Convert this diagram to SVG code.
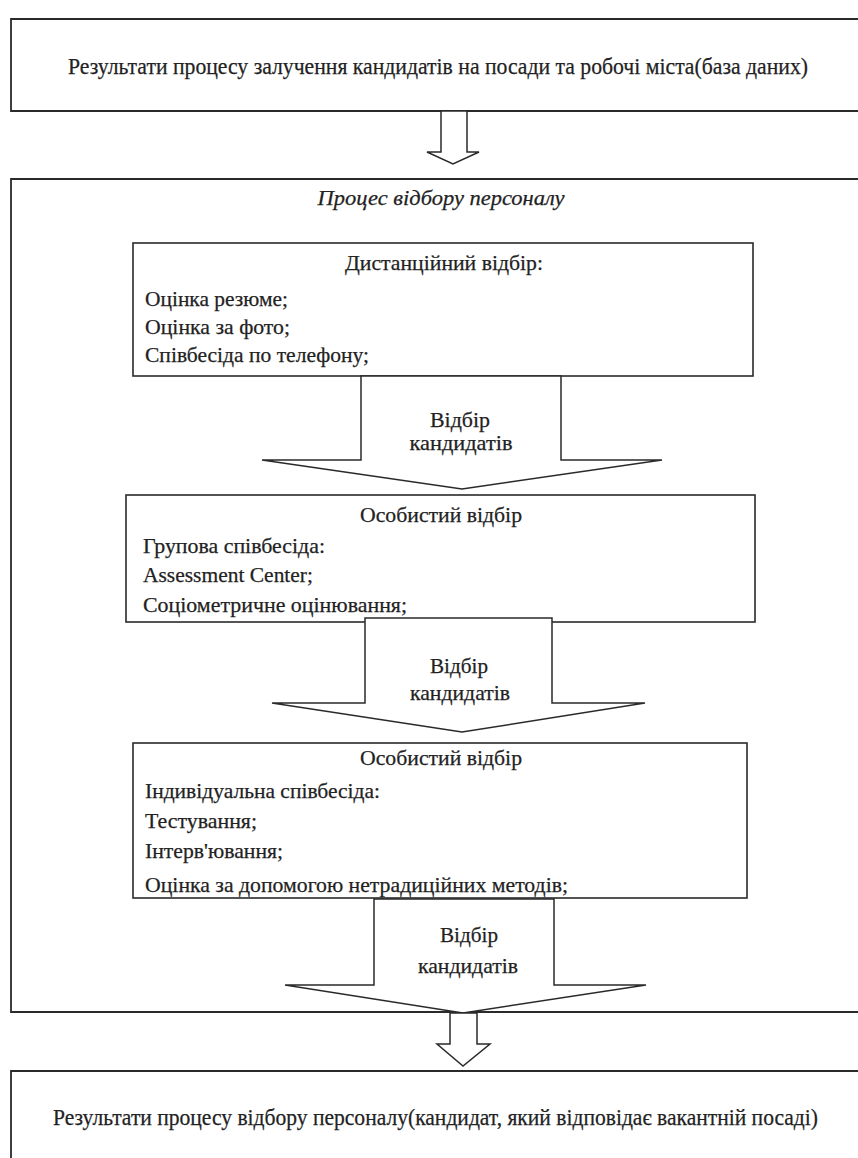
<svg xmlns="http://www.w3.org/2000/svg" width="858" height="1158" viewBox="0 0 858 1158">
  <style>
    .box { fill: #ffffff; stroke: #2a2a2a; stroke-width: 1.6; }
    .frame { fill: none; stroke: #2a2a2a; stroke-width: 1.8; }
    .arrow { fill: #ffffff; stroke: #2a2a2a; stroke-width: 1.5; stroke-linejoin: miter; }
    text { fill: #222222; stroke: #222222; stroke-width: 0.25; }
    .big { font-size: 24px; }
    .txt { font-size: 22px; }
    .mid { text-anchor: middle; }
    .it { font-style: italic; font-size: 22px; }
  </style>

  <rect width="858" height="1158" fill="#ffffff"/>

  <g font-family="Liberation Serif, DejaVu Serif, Noto Serif, Times New Roman, serif">

  <!-- Source: candidate attraction results (box runs off the right edge) -->
  <g id="source">
    <path class="frame" d="M 858,19 H 11 V 111 H 858"/>
    <text class="big" x="68" y="74" textLength="740" lengthAdjust="spacingAndGlyphs">Результати процесу залучення кандидатів на посади та робочі міста(база даних)</text>
  </g>

  <!-- Selection process container -->
  <g id="selection-process">
    <path class="frame" d="M 858,179 H 11 V 1012 H 858"/>
    <text class="it mid" x="441" y="205" textLength="247" lengthAdjust="spacingAndGlyphs">Процес відбору персоналу</text>
  </g>

  <!-- Stage 1: remote screening -->
  <g id="remote-selection">
    <rect class="box" x="133" y="243" width="620" height="133"/>
    <text class="txt mid" x="444" y="270" textLength="198" lengthAdjust="spacingAndGlyphs">Дистанційний відбір:</text>
    <text class="txt" x="145" y="306" textLength="143" lengthAdjust="spacingAndGlyphs">Оцінка резюме;</text>
    <text class="txt" x="145" y="334" textLength="145" lengthAdjust="spacingAndGlyphs">Оцінка за фото;</text>
    <text class="txt" x="145" y="362" textLength="224" lengthAdjust="spacingAndGlyphs">Співбесіда по телефону;</text>
  </g>

  <!-- Stage 2: group assessment -->
  <g id="personal-selection-group">
    <rect class="box" x="126" y="495" width="629" height="127"/>
    <text class="txt mid" x="441" y="522" textLength="162" lengthAdjust="spacingAndGlyphs">Особистий відбір</text>
    <text class="txt" x="143" y="553" textLength="182" lengthAdjust="spacingAndGlyphs">Групова співбесіда:</text>
    <text class="txt" x="143" y="582" textLength="170" lengthAdjust="spacingAndGlyphs">Assessment Center;</text>
    <text class="txt" x="143" y="612" textLength="264" lengthAdjust="spacingAndGlyphs">Соціометричне оцінювання;</text>
  </g>

  <!-- Stage 3: individual assessment -->
  <g id="personal-selection-individual">
    <rect class="box" x="133" y="743" width="614" height="155"/>
    <text class="txt mid" x="441" y="765" textLength="162" lengthAdjust="spacingAndGlyphs">Особистий відбір</text>
    <text class="txt" x="145" y="798" textLength="235" lengthAdjust="spacingAndGlyphs">Індивідуальна співбесіда:</text>
    <text class="txt" x="145" y="828" textLength="112" lengthAdjust="spacingAndGlyphs">Тестування;</text>
    <text class="txt" x="145" y="858" textLength="138" lengthAdjust="spacingAndGlyphs">Інтерв'ювання;</text>
    <text class="txt" x="145" y="892" textLength="423" lengthAdjust="spacingAndGlyphs">Оцінка за допомогою нетрадиційних методів;</text>
  </g>

  <!-- Result: selected candidate (box runs off the right and bottom edges) -->
  <g id="result">
    <path class="frame" d="M 858,1071 H 11 V 1158"/>
    <text class="big" x="53" y="1125" textLength="765" lengthAdjust="spacingAndGlyphs">Результати процесу відбору персоналу(кандидат, який відповідає вакантній посаді)</text>
  </g>

  <!-- Block arrows between stages -->
  <g id="connectors">
    <polygon class="arrow" points="441,111 467,111 467,152 479,152 453,164 427,152 441,152"/>
    <g id="arrow-1">
      <polygon class="arrow" points="361,376 561,376 561,460 662,460 462,489 262,460 361,460"/>
      <text class="txt mid" x="460" y="427" textLength="60" lengthAdjust="spacingAndGlyphs">Відбір</text>
      <text class="txt mid" x="461" y="450" textLength="103" lengthAdjust="spacingAndGlyphs">кандидатів</text>
    </g>
    <g id="arrow-2">
      <polygon class="arrow" points="365,618 552,618 552,703 645,703 462,732 272,703 365,703"/>
      <text class="txt mid" x="459" y="673" textLength="58" lengthAdjust="spacingAndGlyphs">Відбір</text>
      <text class="txt mid" x="460" y="700" textLength="100" lengthAdjust="spacingAndGlyphs">кандидатів</text>
    </g>
    <g id="arrow-3">
      <polygon class="arrow" points="374,899 554,899 554,985 646,985 463,1013 285,985 374,985"/>
      <text class="txt mid" x="469" y="942" textLength="58" lengthAdjust="spacingAndGlyphs">Відбір</text>
      <text class="txt mid" x="468" y="973" textLength="100" lengthAdjust="spacingAndGlyphs">кандидатів</text>
    </g>
    <polygon class="arrow" points="450,1013 477,1013 477,1044 490,1044 463,1066 437,1044 450,1044"/>
  </g>

  </g>
</svg>
